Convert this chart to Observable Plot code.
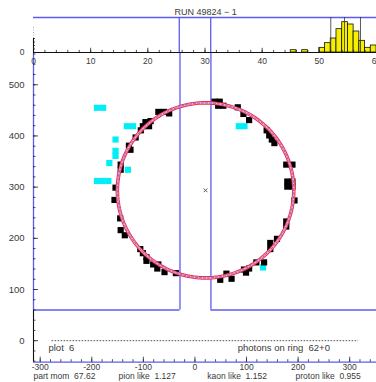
<!DOCTYPE html>
<html><head><meta charset="utf-8">
<script src="https://cdn.jsdelivr.net/npm/d3@7"></script>
<script src="https://cdn.jsdelivr.net/npm/@observablehq/plot@0.6"></script>
<style>
html,body{margin:0;padding:0;background:#fff;}
#wrap{position:relative;width:376px;height:382px;overflow:hidden;background:#fff;}
#wrap svg{position:absolute;left:0;top:0;}
</style></head><body><div id="wrap"></div>
<script>
// ---------- top histogram ----------
const title = "RUN 49824 \u2212 1";
const histBins = [45, 47, 50, 51, 52, 53, 54, 55, 56, 57, 58, 59];
const histCounts = [1, 1, 2, 4, 6, 10, 13, 12, 9, 5, 2, 3];
const histMarkers = [52.0, 54.4, 57.2];
const histXTicks = [0, 10, 20, 30, 40, 50, 60];
const gapTop = [25.5, 31.0];

// ---------- main event display ----------
const xTicks = [-300, -200, -100, 0, 100, 200, 300];
const yTicks = [0, 100, 200, 300, 400, 500];
const gapMain = [-29, 31];
const detectorBottom = 60;
const blackHits = [
  [-70,446],[-59,446],[-49,443],
  [-95,426],[-85,428],[-88,418],
  [-104,410],[-100,418],
  [-114,396],
  [-127,380],[-124,372],
  [-143,343],[-143,333],
  [-153,298],
  [-155,274],
  [-144,238],
  [-143,215],[-135,205],
  [-105,178],[-100,170],[-93,162],[-93,155],
  [-80,148],[-70,148],[-72,140],
  [-58,133],
  [-36,131],
  [39,466],[49,466],[46,458],[56,458],
  [84,455],
  [95,442],
  [106,430],
  [140,410],[145,400],[150,392],[155,385],
  [178,343],[190,343],
  [180,310],[190,310],[180,300],[190,300],
  [194,273],
  [178,232],[178,222],
  [160,198],
  [147,190],[147,178],
  [120,152],[135,152],
  [96,138],[106,140],[100,132],
  [72,120],
  [62,130],
  [50,118]
];
const cyanHits = [
  [-189,454],[-177,454],
  [-131,418],[-119,418],
  [-153,392],
  [-153,370],[-153,360],
  [-165,346],
  [-129,333],
  [-189,311],[-178,311],[-167,311],
  [86,418],[97,418],
  [133,142]
];
const ringCenter = [20.6, 293.7];
const ringRadius = 171;
const plotLabel = "plot  6";
const photonsLabel = "photons on ring  62+0";
const infoText = ["part mom  67.62", "pion like  1.127", "kaon like  1.152", "proton like  0.955"];
const infoX = [-313, -148, 24, 195];

const FONT = "Liberation Sans, Arial, Helvetica, sans-serif";
const BLUE = "#5b5bf2";
const TXT = "#3a3a3a";
const cell = 12;
const xMin = -313, xMax = 352, yMin = -42, yMax = 563;

const ringPts = d3.range(0, 361, 2).map(a => ({
  x: ringCenter[0] + ringRadius * Math.cos(a * Math.PI / 180),
  y: ringCenter[1] + ringRadius * Math.sin(a * Math.PI / 180)
}));

const minorX = d3.range(-300, 351, 20);
const minorY = d3.range(-40, 561, 20);

const mainPlot = Plot.plot({
  width: 376, height: 382,
  marginLeft: 33, marginRight: 0, marginTop: 52, marginBottom: 20.3,
  x: {domain: [xMin, xMax]},
  y: {domain: [yMin, yMax]},
  style: {background: "transparent", fontFamily: FONT, overflow: "visible"},
  marks: [
    Plot.ruleX([xMin], {y1: detectorBottom, y2: yMax, stroke: BLUE, strokeWidth: 1.3}),
    Plot.ruleX(gapMain, {y1: detectorBottom, y2: yMax, stroke: BLUE, strokeWidth: 1.3}),
    Plot.ruleY([detectorBottom], {x1: xMin, x2: gapMain[0], stroke: BLUE, strokeWidth: 1.3}),
    Plot.ruleY([detectorBottom], {x1: gapMain[1], x2: xMax, stroke: BLUE, strokeWidth: 1.3}),
    Plot.ruleY([yMin], {x1: xMin, x2: xMax, stroke: BLUE, strokeWidth: 1.3}),
    Plot.ruleX([xMin], {y1: yMin, y2: detectorBottom, stroke: "#111", strokeWidth: 1.1}),
    Plot.ruleY(minorY, {x1: xMin, x2: xMin + 4.8, stroke: "#222", strokeWidth: 0.8}),
    Plot.ruleY(yTicks, {x1: xMin, x2: xMin + 9.7, stroke: "#222", strokeWidth: 0.8}),
    Plot.ruleX(minorX, {y1: yMin, y2: yMin + 4.9, stroke: "#222", strokeWidth: 0.8}),
    Plot.ruleX(xTicks, {y1: yMin, y2: yMin + 9.8, stroke: "#222", strokeWidth: 0.8}),
    Plot.axisX({ticks: xTicks, tickSize: 0, tickPadding: 1.5, fontSize: 8.5, color: TXT, label: null,
      tickFormat: d => d < 0 ? "-" + (-d) : String(d)}),
    Plot.axisY({ticks: yTicks, tickSize: 0, tickPadding: 9, fontSize: 9.5, color: TXT, label: null}),
    Plot.ruleY([0], {x1: -277, x2: 317, stroke: "#444", strokeWidth: 0.9, strokeDasharray: "1.6,1.4"}),
    Plot.rect(cyanHits, {x1: d => d[0] - cell/2, x2: d => d[0] + cell/2, y1: d => d[1] - cell/2, y2: d => d[1] + cell/2, fill: "#00eef6", inset: 0}),
    Plot.rect(blackHits, {x1: d => d[0] - cell/2, x2: d => d[0] + cell/2, y1: d => d[1] - cell/2, y2: d => d[1] + cell/2, fill: "#000", inset: 0}),
    Plot.line(ringPts, {x: "x", y: "y", stroke: "#f0304a", strokeWidth: 3.6}),
    Plot.line(ringPts, {x: "x", y: "y", stroke: "#ffb4c2", strokeWidth: 1.6}),
    Plot.line(ringPts, {x: "x", y: "y", stroke: "#3b46ff", strokeWidth: 0.7, strokeDasharray: "2,2"}),
    Plot.dot([ringCenter], {x: d => d[0], y: d => d[1], symbol: "times", r: 1.8, stroke: "#555", strokeWidth: 1}),
    Plot.text([plotLabel], {x: -284, y: -14, textAnchor: "start", fontSize: 9.5, fill: TXT}),
    Plot.text([photonsLabel], {x: 83, y: -14, textAnchor: "start", fontSize: 9.5, fill: TXT}),
    Plot.text(infoText, {x: (d, i) => infoX[i], frameAnchor: "bottom", dy: 17, textAnchor: "start", fontSize: 8.5, fill: TXT})
  ]
});

const minorH = d3.range(0, 61, 2);
const topPlot = Plot.plot({
  width: 376, height: 70,
  marginLeft: 33, marginRight: 0, marginTop: 17, marginBottom: 18,
  x: {domain: [0, 60]},
  y: {domain: [0, 15]},
  style: {background: "transparent", fontFamily: FONT, overflow: "visible"},
  marks: [
    Plot.ruleY([15], {x1: 0, x2: 60, stroke: BLUE, strokeWidth: 1.3}),
    Plot.ruleX(gapTop, {y1: 0, y2: 15, stroke: BLUE, strokeWidth: 1.3}),
    Plot.rectY(histBins, {x1: d => d, x2: d => d + 1, y: (d, i) => histCounts[i], fill: "#f6f000", stroke: "#111", strokeWidth: 0.8, inset: 0}),
    Plot.ruleX(histMarkers, {y1: 0, y2: 15, stroke: "#333", strokeWidth: 0.8}),
    Plot.ruleY([0], {x1: 0, x2: 60, stroke: "#111", strokeWidth: 1}),
    Plot.ruleX(minorH, {y1: 0, y2: 0.9, stroke: "#222", strokeWidth: 0.8}),
    Plot.ruleX(histXTicks, {y1: 0, y2: 1.8, stroke: "#222", strokeWidth: 0.8}),
    Plot.ruleX([0], {y1: 0, y2: 6, stroke: "#111", strokeWidth: 1.1}),
    Plot.ruleX([0], {y1: 6, y2: 11, stroke: "#999", strokeWidth: 0.8, strokeDasharray: "1,1.5"}),
    Plot.ruleY([1.5, 3, 4.5, 6], {x1: 0, x2: 0.35, stroke: "#222", strokeWidth: 0.8}),
    Plot.axisX({ticks: histXTicks, tickSize: 0, tickPadding: 5, fontSize: 8.5, color: TXT, label: null}),
    Plot.axisY({ticks: [0], tickSize: 0, tickPadding: 9, fontSize: 8.5, color: TXT, label: null}),
    Plot.text([title], {x: 30.1, frameAnchor: "top", dy: -9, fontSize: 9, fill: TXT})
  ]
});

const wrap = document.getElementById("wrap");
wrap.appendChild(mainPlot);
wrap.appendChild(topPlot);
</script></body></html>
